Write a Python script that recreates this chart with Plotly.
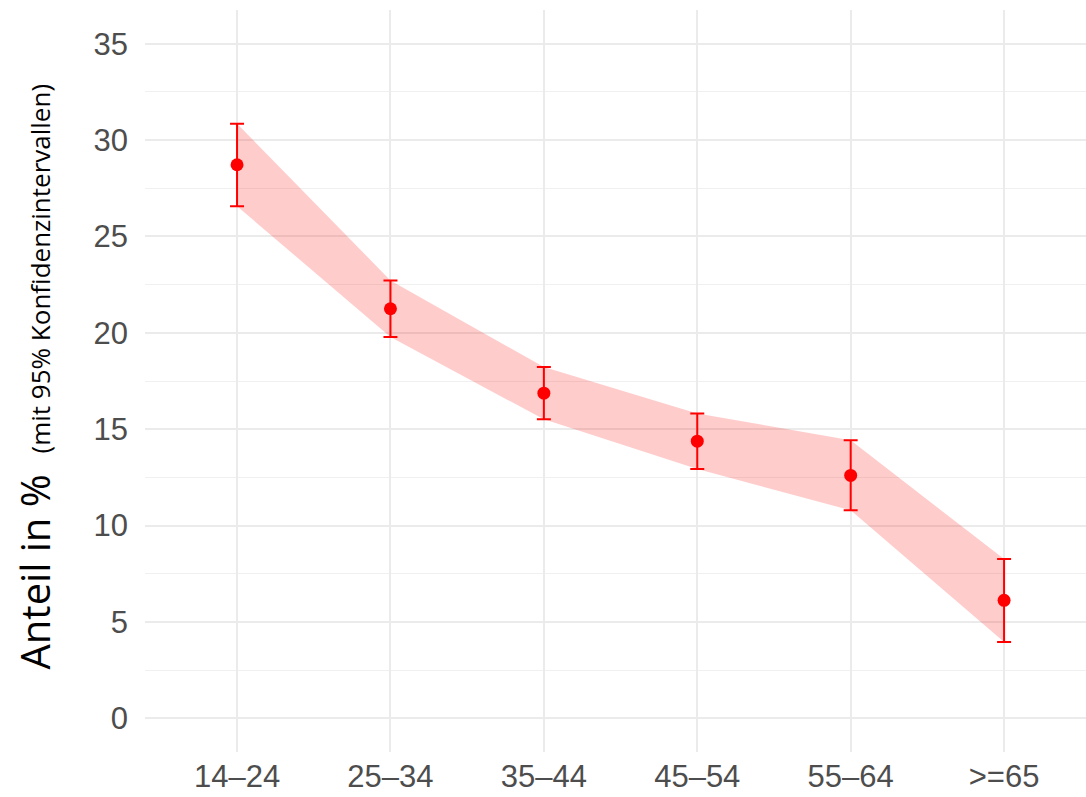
import plotly.graph_objects as go

categories = ["14\u201324", "25\u201334", "35\u201344", "45\u201354", "55\u201364", ">=65"]
share = [28.72, 21.25, 16.87, 14.38, 12.60, 6.12]
upper = [30.85, 22.72, 18.22, 15.82, 14.42, 8.26]
lower = [26.57, 19.78, 15.51, 12.93, 10.79, 3.96]
y_ticks = [0, 5, 10, 15, 20, 25, 30, 35]

err_plus = [u - s for u, s in zip(upper, share)]
err_minus = [s - l for s, l in zip(share, lower)]

fig = go.Figure()
fig.add_trace(go.Scatter(x=categories, y=lower, mode="lines", line=dict(width=0),
                         hoverinfo="skip", showlegend=False))
fig.add_trace(go.Scatter(x=categories, y=upper, mode="lines", line=dict(width=0),
                         fill="tonexty", fillcolor="rgba(255,0,0,0.2)",
                         hoverinfo="skip", showlegend=False))
fig.add_trace(go.Scatter(
    x=categories, y=share, mode="markers",
    marker=dict(color="#FF0000", size=13),
    error_y=dict(type="data", array=err_plus, arrayminus=err_minus,
                 color="#FF0000", thickness=2, width=7),
    showlegend=False))

fig.update_layout(
    width=1086, height=797,
    margin=dict(l=145, r=0, t=10, b=45),
    plot_bgcolor="white", paper_bgcolor="white",
    font=dict(family="Liberation Sans, Arial, sans-serif", color="#4D4D4D", size=31),
    xaxis=dict(type="category", range=[-0.6, 5.534], showgrid=True, gridcolor="#EBEBEB",
               gridwidth=1.5, zeroline=False, showline=False, ticks="",
               tickfont=dict(size=31, color="#4D4D4D"), ticklabelstandoff=3),
    yaxis=dict(range=[-1.75, 36.75], tickvals=y_ticks, showgrid=True, gridcolor="#EBEBEB",
               gridwidth=1.5, zeroline=False, showline=False, ticks="",
               tickfont=dict(size=31, color="#4D4D4D"), ticklabelstandoff=16,
               minor=dict(dtick=2.5, tick0=0, showgrid=True, gridcolor="#F0F0F0", gridwidth=1)),
    annotations=[dict(
        xref="paper", yref="paper", x=-0.117, y=0.506, xanchor="center", yanchor="middle",
        textangle=-90, showarrow=False,
        text="Anteil in %  <span style='font-size:26px'>(mit 95% Konfidenzintervallen)</span>",
        font=dict(family="Open Sans, Noto Sans, sans-serif", size=40, color="black"))],
)

fig.write_html("out.html")
